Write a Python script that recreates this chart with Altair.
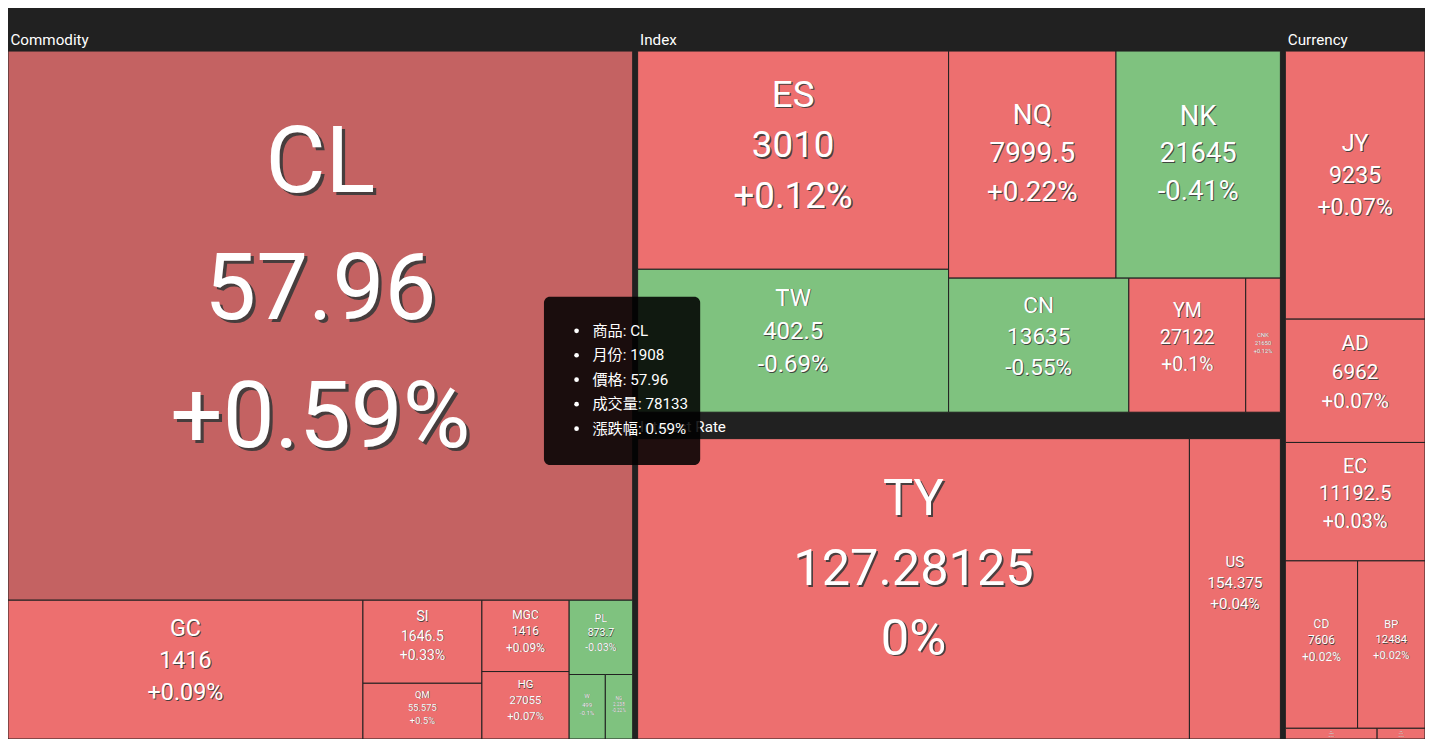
import altair as alt
import pandas as pd

# ---- data -------------------------------------------------------------------
group_names = ["Commodity", "Index", "Interest Rate", "Currency"]

commodity_names = ["CL", "GC", "SI", "QM", "MGC", "HG", "PL", "W", "NG"]
commodity_prices = [57.96, 1416, 1646.5, 55.575, 1416, 27055, 873.7, 499, 2.238]
commodity_changes = [0.59, 0.09, 0.33, 0.5, 0.09, 0.07, -0.03, -0.1, -0.22]
commodity_volumes = [78133, 11220, 2251, 1510, 1418, 1340, 1075, 531, 402]

index_names = ["ES", "TW", "NQ", "NK", "CN", "YM", "CNK"]
index_prices = [3010, 402.5, 7999.5, 21645, 13635, 27122, 21650]
index_changes = [0.12, -0.69, 0.22, -0.41, -0.55, 0.1, 0.12]
index_volumes = [15970, 10460, 8945, 8785, 5687, 3688, 1094]

rate_names = ["TY", "US"]
rate_prices = [127.28125, 154.375]
rate_changes = [0, 0.04]
rate_volumes = [39540, 6520]

currency_names = ["JY", "AD", "EC", "CD", "BP", "SF", "NE"]
currency_prices = [9235, 6962, 11192.5, 7606, 12484, 10063, 6712]
currency_changes = [0.07, 0.07, 0.03, 0.02, 0.02, 0.01, 0.01]
currency_volumes = [8760, 4030, 3870, 2830, 2640, 230, 120]

hovered_name = "CL"
hovered_month = 1908

# ---- layout settings ---------------------------------------------------------
REF_W, REF_H = 1433, 747          # layout units
WIDTH, HEIGHT = 1417, 731         # drawn size
FONT_K = 0.98
BORDER = 2.5
UPPER = 24.5
PHI = 0.5 * (1 + 5 ** 0.5)
FONT = "Roboto, 'Noto Sans CJK TC', sans-serif"

RISE, FALL, RISE_HOVER = "#ED6F6F", "#7FC27F", "#C46262"


def worst(areas, fixed):
    total = sum(areas)
    sq = total * total
    f = fixed * fixed * PHI
    return max(f * max(areas) / sq, sq / (f * min(areas)))


def place(row, fixed, rect, areas, out, flush):
    along_x = fixed == rect[2]
    other = sum(areas[j] for j in row) / fixed if fixed else 0
    side = rect[3] if along_x else rect[2]
    if flush or other > side:
        other = side
    last = rect[0] if along_x else rect[1]
    end = rect[0] + rect[2] if along_x else rect[1] + rect[3]
    for k, j in enumerate(row):
        step = areas[j] / other if other else 0
        remain = end - last
        mod = remain if (k == len(row) - 1 or remain < step) else step
        out[j] = (last, rect[1], mod, other) if along_x else (rect[0], last, other, mod)
        last += mod
    if along_x:
        rect[1] += other
        rect[3] -= other
    else:
        rect[0] += other
        rect[2] -= other


def squarify(values, x, y, w, h):
    """squarified layout, same row rule as the echarts treemap"""
    s = sum(values)
    order = sorted(range(len(values)), key=lambda i: -values[i])
    areas = {i: values[i] / s * w * h for i in order}
    out = {}
    rect = [x, y, w, h]
    fixed = min(w, h)
    row, best, i = [], float("inf"), 0
    while i < len(order):
        row.append(order[i])
        score = worst([areas[j] for j in row], fixed)
        if score <= best:
            i += 1
            best = score
        else:
            row.pop()
            place(row, fixed, rect, areas, out, False)
            fixed = min(rect[2], rect[3])
            row, best = [], float("inf")
    if row:
        place(row, fixed, rect, areas, out, True)
    return [out[i] for i in range(len(values))]


def pct(c, sign=True):
    if c == 0:
        return "0%"
    return f"{c:+g}%" if sign else f"{c:g}%"


groups = [
    (commodity_names, commodity_prices, commodity_changes, commodity_volumes),
    (index_names, index_prices, index_changes, index_volumes),
    (rate_names, rate_prices, rate_changes, rate_volumes),
    (currency_names, currency_prices, currency_changes, currency_volumes),
]

group_boxes = squarify([sum(g[3]) for g in groups], -BORDER, 19.5, REF_W + 2 * BORDER, REF_H + BORDER - 19.5)

cells, labels, headers = [], [], []
for gname, (names, prices, changes, vols), (gx, gy, gw, gh) in zip(group_names, groups, group_boxes):
    ix, iy, iw, ih = gx + BORDER, gy + UPPER, gw - 2 * BORDER, gh - UPPER - BORDER
    hfs = 15.5 * FONT_K
    headers.append({"group": gname, "x": ix + 2.5, "y": iy - 12.5 + 0.055 * hfs})
    for name, price, chg, vol, (x, y, w, h) in zip(names, prices, changes, vols, squarify(vols, ix, iy, iw, ih)):
        tone = "fall" if chg < 0 else ("rise_hover" if name == hovered_name else "rise")
        cells.append({"group": gname, "name": name, "price": price, "change": pct(chg),
                      "volume": vol, "tone": tone, "x": x, "x2": x + w, "y": y, "y2": y + h})
        m = min(w, h)
        fs = 0.168 * m
        mid = y + h / 2 - 0.072 * m
        off = 0.035 * fs
        for k, line in enumerate([name, str(price), pct(chg)]):
            ty = mid + (k - 1) * 0.232 * m + 0.055 * fs
            labels.append({"text": line, "x": x + w / 2, "y": ty,
                           "xs": x + w / 2 + off, "ys": ty + off, "fs": fs * FONT_K})

cells = pd.DataFrame(cells)
labels = pd.DataFrame(labels)
headers = pd.DataFrame(headers)

hov = cells[cells["name"] == hovered_name].iloc[0]
tip_lines = [f"商品: {hov['name']}", f"月份: {hovered_month}", f"價格: {hov['price']}",
             f"成交量: {hov['volume']}", f"漲跌幅: {pct(commodity_changes[0], sign=False)}"]
tip_box = pd.DataFrame([{"x": 542, "x2": 700, "y": 295, "y2": 467}])
tip_text = pd.DataFrame({"text": tip_lines,
                         "x": [591] * 5, "bx": [575] * 5,
                         "y": [329 + 25 * i + 0.055 * 15.5 for i in range(5)]})

xs = alt.Scale(domain=[0, REF_W], nice=False, zero=False)
ys = alt.Scale(domain=[0, REF_H], nice=False, zero=False, reverse=True)

rects = alt.Chart(cells).mark_rect(stroke="#212121", strokeWidth=1).encode(
    x=alt.X("x:Q", scale=xs, axis=None),
    x2="x2:Q",
    y=alt.Y("y:Q", scale=ys, axis=None),
    y2="y2:Q",
    color=alt.Color("tone:N", legend=None,
                    scale=alt.Scale(domain=["rise", "fall", "rise_hover"], range=[RISE, FALL, RISE_HOVER])),
    tooltip=["name:N", "price:Q", "volume:Q", "change:N"],
)

shadow = alt.Chart(labels).mark_text(color="#3a3a3a", opacity=0.9, baseline="middle", font=FONT).encode(
    x=alt.X("xs:Q", scale=xs, axis=None),
    y=alt.Y("ys:Q", scale=ys, axis=None),
    text="text:N",
    size=alt.Size("fs:Q", scale=None),
)

text = alt.Chart(labels).mark_text(color="white", baseline="middle", font=FONT).encode(
    x=alt.X("x:Q", scale=xs, axis=None),
    y=alt.Y("y:Q", scale=ys, axis=None),
    text="text:N",
    size=alt.Size("fs:Q", scale=None),
)

head = alt.Chart(headers).mark_text(color="white", align="left", baseline="middle",
                                    font=FONT, fontSize=15.5 * FONT_K).encode(
    x=alt.X("x:Q", scale=xs, axis=None),
    y=alt.Y("y:Q", scale=ys, axis=None),
    text="group:N",
)

box = alt.Chart(tip_box).mark_rect(color="black", opacity=0.87, cornerRadius=6).encode(
    x=alt.X("x:Q", scale=xs, axis=None),
    x2="x2:Q",
    y=alt.Y("y:Q", scale=ys, axis=None),
    y2="y2:Q",
)

bullets = alt.Chart(tip_text).mark_circle(color="white", opacity=1, size=22).encode(
    x=alt.X("bx:Q", scale=xs, axis=None),
    y=alt.Y("y:Q", scale=ys, axis=None),
)

tip = alt.Chart(tip_text).mark_text(color="white", align="left", baseline="middle",
                                    font=FONT, fontSize=15.5 * FONT_K).encode(
    x=alt.X("x:Q", scale=xs, axis=None),
    y=alt.Y("y:Q", scale=ys, axis=None),
    text="text:N",
)

chart = (
    alt.layer(rects, head, shadow, text, box, bullets, tip)
    .properties(width=WIDTH, height=HEIGHT, padding=0, autosize="none", background="#212121")
    .configure_view(strokeWidth=0)
)

chart.save("out.html", embed_options={"renderer": "svg", "actions": False})
